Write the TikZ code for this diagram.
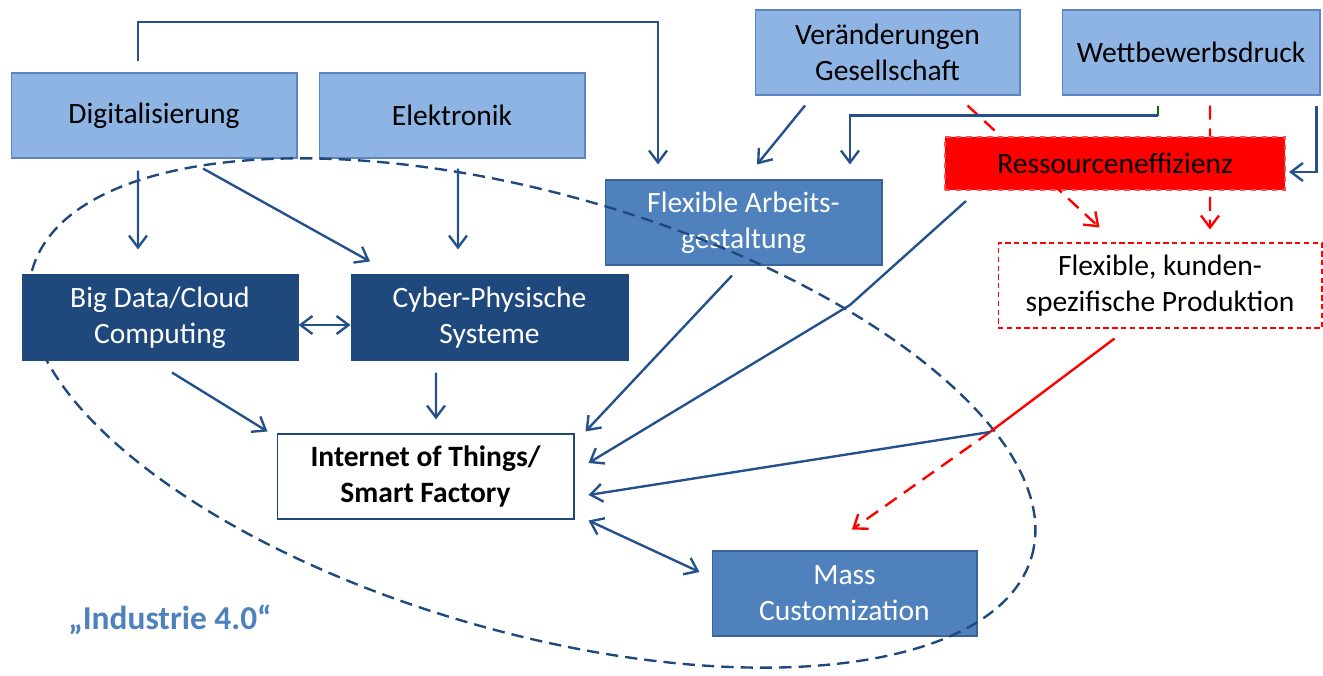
\documentclass[tikz,border=0pt]{standalone}
\usepackage{fontspec}
\setmainfont{Carlito}
\usepackage{tikz}
\usetikzlibrary{arrows.meta}

\definecolor{hellblau}{HTML}{8EB4E3}
\definecolor{randblau}{HTML}{5B84C0}
\definecolor{mittelblau}{HTML}{4F81BD}
\definecolor{mittelrand}{HTML}{3A6497}
\definecolor{dunkelblau}{HTML}{1F497D}
\definecolor{pfeilblau}{HTML}{24508C}

\begin{document}
\begin{tikzpicture}[x=0.02cm, y=-0.02cm,
		font=\fontsize{16.8}{20.5}\selectfont,
		box/.style={minimum width=#1, minimum height=1.7cm, inner sep=0pt, align=center},
		hell/.style={fill=hellblau, draw=randblau, line width=0.6pt},
		mittel/.style={fill=mittelblau, draw=mittelrand, line width=0.6pt, text=white},
		dunkel/.style={fill=dunkelblau, draw=dunkelblau, line width=0.6pt, text=white},
		pfeil/.style={draw=pfeilblau, line width=1.35pt, -{Straight Barb[length=2.4mm,width=3.6mm]}},
		rotpfeil/.style={draw=red, line width=1.35pt, dash pattern=on 8pt off 5pt, -{Straight Barb[length=2.4mm,width=3.6mm]}}]
		\useasboundingbox (0,0) rectangle (1323,676);
		
		% Einflussfaktoren oben
		\node[box=5.72cm, hell] (digi) at (154,115.5) {Digitalisierung};
		\node[box=5.32cm, hell] (elek) at (452,115.5) {Elektronik};
		\node[box=5.3cm, hell] (veraend) at (887.5,52.5) {Veränderungen\\Gesellschaft};
		\node[box=5.16cm, hell] (wett) at (1191,52.5) {Wettbewerbsdruck};
		\node[box=5.54cm, mittel] (flexarb) at (743.5,222.5) {Flexible Arbeits-\\gestaltung};
		\node[box=6.48cm, draw=red, fill=white, dash pattern=on 3pt off 2pt, line width=0.6pt] (flexprod) at (1160,285.5) {Flexible, kunden-\\spezifische Produktion};
		\node[box=5.3cm, mittel] (mass) at (844.5,593.5) {Mass\\Customization};
		
		% rote Pfeile hinter Ressourceneffizienz
		\draw[rotpfeil] ([xshift=-1.06cm,yshift=-0.2cm]veraend.south east) -- ([xshift=-1.21cm,yshift=0.3cm]flexprod.north);
		\draw[rotpfeil] ([xshift=0.38cm,yshift=-0.2cm]wett.south) -- ([xshift=1cm,yshift=0.26cm]flexprod.north);
		\node[box=6.8cm, minimum height=1.06cm, fill=red, draw=red!70!white, dashed, line width=1.2pt] (ressource) at (1115,163.5) {Ressourceneffizienz};
		
		% Industrie 4.0
		\draw[dunkelblau, line width=1.35pt, dash pattern=on 7pt off 4pt] (532,413) ellipse [x radius=10.4cm, y radius=4.38cm, rotate=-16];
		\node[box=5.52cm, dunkel] (bigdata) at (160,317.5) {Big Data/Cloud\\Computing};
		\node[box=5.54cm, dunkel] (cps) at (489.5,317.5) {Cyber-Physische\\Systeme};
		\node[box=5.94cm, fill=white, draw=dunkelblau, line width=0.6pt, font=\fontsize{16.8}{20.5}\selectfont\bfseries] (iot) at (425.5,476.5) {Internet of Things/\\Smart Factory};
		\node[font=\fontsize{19}{23}\selectfont\bfseries, text=mittelblau] (industrie) at (170,620) {„Industrie 4.0“};
		
		\coordinate (oben) at (400,22);
		\coordinate (knick) at (850,305);
		\coordinate (abzweig) at (990,432);
		
		\draw[pfeil, shorten <=0.22cm, shorten >=0.3cm] ([xshift=-0.32cm]digi.north) |- (oben) -| ([xshift=-1.71cm]flexarb.north);
		\draw[pfeil, shorten <=0.24cm, shorten >=0.5cm] ([xshift=-0.32cm]digi.south) -- ([xshift=-0.44cm]bigdata.north);
		\draw[pfeil] ([xshift=0.98cm,yshift=-0.2cm]digi.south) -- ([xshift=-2.39cm,yshift=0.26cm]cps.north);
		\draw[pfeil, shorten <=0.2cm, shorten >=0.5cm] ([xshift=0.12cm]elek.south) -- ([xshift=-0.63cm]cps.north);
		\draw[pfeil, {Straight Barb[length=2.4mm,width=3.6mm]}-{Straight Barb[length=2.4mm,width=3.6mm]}] ([yshift=-0.15cm]bigdata.east) -- ([yshift=-0.15cm]cps.west);
		\draw[pfeil] ([xshift=0.24cm,yshift=-0.24cm]bigdata.south) -- ([xshift=-0.18cm,yshift=0.04cm]iot.north west);
		\draw[pfeil, shorten <=0.24cm, shorten >=0.28cm] ([xshift=-1.07cm]cps.south) -- ([xshift=0.21cm]iot.north);
		\draw[pfeil] ([xshift=-0.23cm,yshift=-0.2cm]flexarb.south) -- ([xshift=0.22cm,yshift=0.04cm]iot.north east);
		\draw[pfeil] ([xshift=0.44cm,yshift=-0.2cm]ressource.south west) -- (knick) -- ([xshift=0.28cm,yshift=0.27cm]iot.east);
		\draw[pfeil] ([xshift=-1.65cm,yshift=-0.2cm]veraend.south) -- ([xshift=0.27cm,yshift=0.3cm]flexarb.north);
		\draw[green!45!black, line width=1.35pt] ([xshift=-0.66cm,yshift=-0.2cm]wett.south) -- ++(0,-0.2cm);
		\draw[pfeil] ([xshift=-0.66cm,yshift=-0.4cm]wett.south) -| ([xshift=2.13cm,yshift=0.3cm]flexarb.north);
		\draw[pfeil] ([xshift=-0.08cm,yshift=-0.2cm]wett.south east) |- ([xshift=0.06cm,yshift=-0.17cm]ressource.east);
		
		% Produktion -> Mass Customization
		\draw[red, line width=1.35pt] ([xshift=-0.91cm,yshift=-0.2cm]flexprod.south) -- (abzweig);
		\draw[rotpfeil] (abzweig) -- ([xshift=0.15cm,yshift=0.42cm]mass.north);
		\draw[pfeil] (abzweig) -- ([xshift=0.28cm,yshift=-0.37cm]iot.east);
		\draw[pfeil, {Straight Barb[length=2.4mm,width=3.6mm]}-{Straight Barb[length=2.4mm,width=3.6mm]}] ([xshift=0.28cm,yshift=-0.02cm]iot.south east) -- ([xshift=-0.24cm,yshift=0.43cm]mass.west);
		
\end{tikzpicture}
\end{document}
